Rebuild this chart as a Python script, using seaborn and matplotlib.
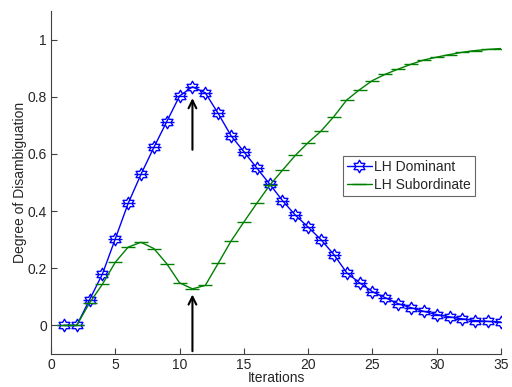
import matplotlib
matplotlib.use("Agg")
import matplotlib.pyplot as plt
from matplotlib.path import Path
import pandas as pd
import seaborn as sns

iterations = list(range(1, 36))
lh_dominant = [0.0, 0.0, 0.09, 0.18, 0.303, 0.427, 0.529, 0.623, 0.713, 0.803,
               0.835, 0.814, 0.742, 0.664, 0.608, 0.551, 0.495, 0.437, 0.386, 0.344,
               0.30, 0.248, 0.184, 0.149, 0.118, 0.097, 0.076, 0.062, 0.049, 0.038,
               0.030, 0.023, 0.017, 0.014, 0.012]
lh_subordinate = [0.0, 0.0, 0.079, 0.144, 0.221, 0.274, 0.291, 0.269, 0.216, 0.149,
                  0.128, 0.14, 0.217, 0.295, 0.362, 0.427, 0.49, 0.543, 0.595, 0.64,
                  0.68, 0.731, 0.789, 0.825, 0.857, 0.879, 0.897, 0.914, 0.929, 0.939,
                  0.948, 0.956, 0.962, 0.966, 0.969]

df = pd.DataFrame({"Iterations": iterations,
                   "dominant": lh_dominant,
                   "subordinate": lh_subordinate})

sns.set_style("ticks")
plt.rcParams['font.family'] = ['Liberation Sans', 'DejaVu Sans']

# matlab style hexagram
hexagram = Path.unit_regular_star(6, innerCircle=0.577)

fig = plt.figure(figsize=(5.12, 3.87), dpi=100)
ax = fig.add_axes([0.0996, 0.0853, 0.879, 0.886])

blue = "#0000ff"
green = "#008000"

sns.lineplot(data=df, x="Iterations", y="dominant", color=blue, lw=1,
             marker=hexagram, markersize=9, markerfacecolor="none",
             markeredgecolor=blue, markeredgewidth=1, label="LH Dominant", ax=ax)
sns.lineplot(data=df, x="Iterations", y="dominant", color=blue, lw=0,
             marker="_", markersize=9.5, markeredgecolor=blue, markeredgewidth=1,
             legend=False, ax=ax)
sns.lineplot(data=df, x="Iterations", y="subordinate", color=green, lw=1,
             marker="_", markersize=9.5, markeredgecolor=green, markeredgewidth=1,
             label="LH Subordinate", ax=ax)

# arrows pointing at the peak and the dip
ax.annotate("", xy=(11, 0.805), xytext=(11, 0.605),
            arrowprops=dict(arrowstyle="->", color="k", lw=1.5, mutation_scale=14))
ax.annotate("", xy=(11, 0.118), xytext=(11, -0.1),
            arrowprops=dict(arrowstyle="->", color="k", lw=1.5, mutation_scale=14))

ax.set_xlim(0, 35)
ax.set_ylim(-0.1, 1.1)
ax.set_xticks(range(0, 36, 5))
ax.set_yticks([0, 0.2, 0.4, 0.6, 0.8, 1])
ax.set_yticklabels(["0", "0.2", "0.4", "0.6", "0.8", "1"])
ax.tick_params(direction="in", labelsize=10, color="#404040", length=4, pad=3)
for s in ["top", "right"]:
    ax.spines[s].set_visible(False)
for s in ["left", "bottom"]:
    ax.spines[s].set_color("#404040")
    ax.spines[s].set_linewidth(0.8)

ax.set_xlabel("Iterations", fontsize=10, labelpad=-1)
ax.set_ylabel("Degree of Disambiguation", fontsize=10, labelpad=0)

leg = ax.legend(loc="upper left", bbox_to_anchor=(0.669, 0.597),
                bbox_transform=fig.transFigure, fancybox=False, fontsize=10,
                handlelength=1.8, handletextpad=0.2, borderpad=0.3,
                labelspacing=0.3, borderaxespad=0)
leg.get_frame().set_edgecolor("#404040")
leg.get_frame().set_linewidth(0.8)

fig.savefig("out.png", dpi=100)
